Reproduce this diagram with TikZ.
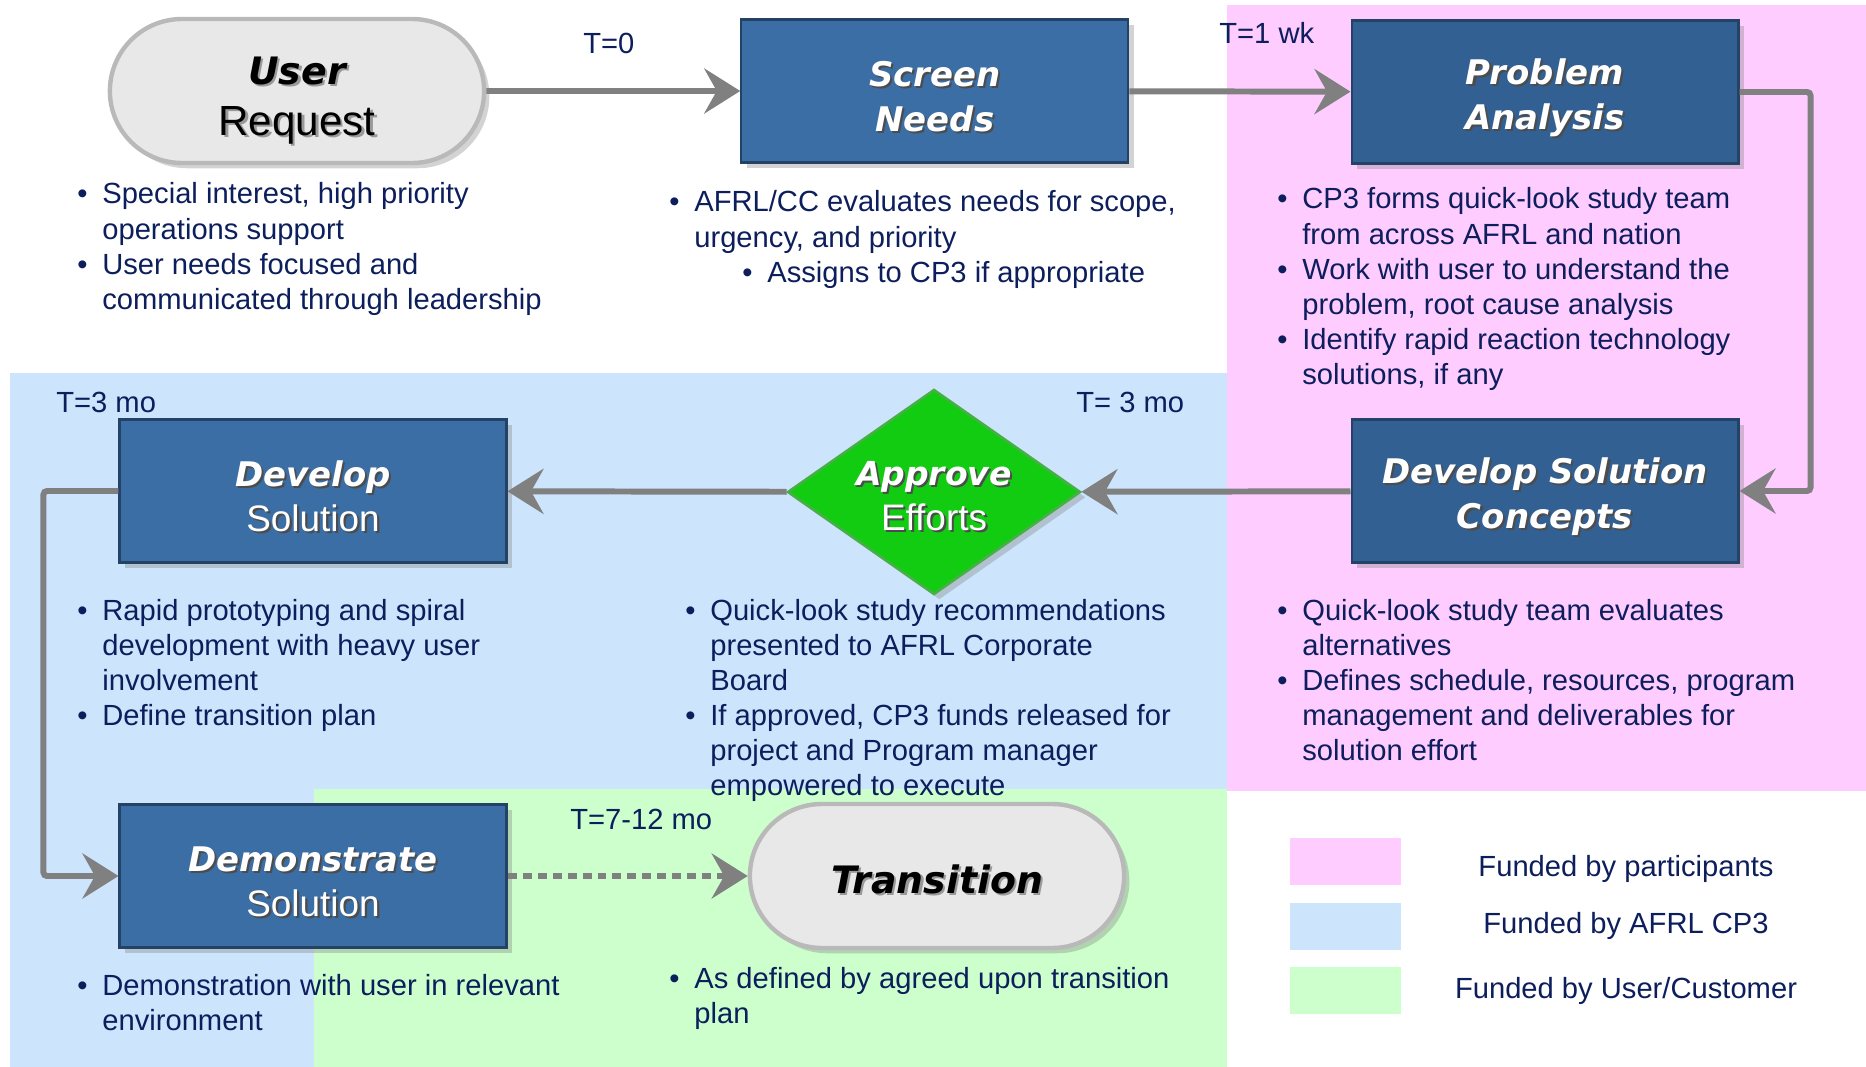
\documentclass[tikz,border=0pt]{standalone}
\usepackage{fontspec}
\setmainfont{Liberation Sans}
\newfontfamily\boxfont{DejaVu Sans}
\usepackage{tikz}
\usetikzlibrary{positioning}
\usetikzlibrary{shapes.geometric,shapes.misc,shadows,arrows.meta}

\definecolor{navytext}{RGB}{12,30,92}
\definecolor{pinkzone}{RGB}{255,204,255}
\definecolor{bluezone}{RGB}{204,228,252}
\definecolor{greenzone}{RGB}{204,255,204}
\definecolor{boxblue}{RGB}{58,110,165}
\definecolor{boxdeep}{RGB}{50,96,146}
\definecolor{boxedge}{RGB}{36,66,102}
\definecolor{okgreen}{RGB}{18,204,18}
\definecolor{okedge}{RGB}{70,175,70}
\definecolor{flowgray}{RGB}{128,128,128}

\newcommand{\shadowed}[2][black!70]{\leavevmode\rlap{\kern0.06em\raisebox{-0.06em}{\textcolor{#1}{#2}}}#2}

\begin{document}
\begin{tikzpicture}[x=0.02cm,y=-0.02cm,
      procbox/.style={rectangle,draw=boxedge,line width=1.2pt,fill=boxblue,
        minimum width=7.74cm,minimum height=2.86cm,text=white,align=center,
        font=\boxfont\bfseries\itshape\fontsize{19.3}{25.6}\selectfont,
        execute at begin node={\rule{0pt}{47.5pt}},
        drop shadow={opacity=0.35,shadow xshift=3pt,shadow yshift=-3pt}},
      termbox/.style={rounded rectangle,draw=gray!55,line width=2.5pt,fill=gray!18,
        minimum width=7.72cm,minimum height=2.88cm,text=black,align=center,
        font=\boxfont\bfseries\itshape\fontsize{21.5}{29}\selectfont,
        execute at begin node={\rule{0pt}{#1}},
        drop shadow={opacity=0.35,shadow xshift=3pt,shadow yshift=-3pt}},
      termbox/.default=21.7pt,
      gatebox/.style={diamond,aspect=1.43,draw=okedge,line width=1.5pt,fill=okgreen,
        minimum width=5.86cm,minimum height=4.1cm,inner sep=0pt,text=white,align=center,
        font=\boxfont\bfseries\itshape\fontsize{18.8}{25.6}\selectfont,
        execute at begin node={\rule{0pt}{45pt}},
        drop shadow={opacity=0.35,shadow xshift=3pt,shadow yshift=-3pt}},
      flow/.style={draw=flowgray,line width=3.4pt,rounded corners=2pt,
        -{Stealth[length=0.72cm,width=0.9cm,inset=0.25cm]}},
      notes/.style={anchor=base west,inner sep=0pt,text=navytext,
        font=\fontsize{16.6}{20}\selectfont},
      tmark/.style={anchor=west,inner sep=0pt,text=navytext,
        font=\fontsize{16.6}{20}\selectfont},
      keytext/.style={anchor=base,inner sep=0pt,text=navytext,
        font=\fontsize{16.6}{20}\selectfont},
      swatch/.style={rectangle,minimum width=2.22cm,minimum height=0.94cm,inner sep=0pt}]
      \useasboundingbox (0,0) rectangle (1866,1067);

      % Funding zones
      \fill[pinkzone]  (1227,5)  rectangle (1866,791);
      \fill[bluezone]  (10,373)  rectangle (1227,1067);
      \fill[greenzone] (314,789) rectangle (1227,1067);

      % Blocks
      \node[termbox=56.8pt]                   (request)    at (297,91)  {\shadowed[gray!80]{User}\\{\normalfont\fontsize{24}{29}\selectfont\shadowed[gray!80]{Request}}};
      \node[procbox,right=5.08cm of request]  (screen)                  {\shadowed{Screen}\\\shadowed{Needs}};
      \node[procbox,fill=boxdeep]             (problem)    at (1545,92) {\shadowed{Problem}\\\shadowed{Analysis}};
      \node[procbox,fill=boxdeep]             (concepts)   at (1545,491) {\shadowed{Develop Solution}\\\shadowed{Concepts}};
      \node[gatebox]                          (approve)    at (934,492) {\shadowed{Approve}\\{\normalfont\fontsize{21}{25.6}\selectfont\shadowed{Efforts}}};
      \node[procbox]                          (develop)    at (313,491) {\shadowed{Develop}\\{\normalfont\fontsize{21}{25.6}\selectfont\shadowed{Solution}}};
      \node[procbox]                          (demo)       at (313,876) {\shadowed{Demonstrate}\\{\normalfont\fontsize{21}{25.6}\selectfont\shadowed{Solution}}};
      \node[termbox]                          (transition) at (937,876) {\shadowed[gray!80]{Transition}};

      % Times
      \node[tmark] (t0)   at (583,43)   {T=0};
      \node[tmark] (t1)   at (1219,33)  {T=1 wk};
      \node[tmark] (t3a)  at (56,402)   {T=3 mo};
      \node[tmark] (t3b)  at (1076,402) {T= 3 mo};
      \node[tmark] (t712) at (570,819)  {T=7-12 mo};

      % Notes
      \node[notes] (requestnotes) at (77,204) {\begin{tabular}[t]{@{}p{0.5cm}@{}l@{}}
        \textbullet & Special interest, high priority\\
                    & operations support\\
        \textbullet & User needs focused and\\
                    & communicated through leadership
      \end{tabular}};
      \node[notes] (screennotes) at (669,212) {\begin{tabular}[t]{@{}p{0.5cm}@{}l@{}}
        \textbullet & AFRL/CC evaluates needs for scope,\\
                    & urgency, and priority\\
                    & \hspace{0.96cm}\makebox[0.5cm][l]{\textbullet}Assigns to CP3 if appropriate
      \end{tabular}};
      \node[notes] (problemnotes) at (1277,209) {\begin{tabular}[t]{@{}p{0.5cm}@{}l@{}}
        \textbullet & CP3 forms quick-look study team\\
                    & from across AFRL and nation\\
        \textbullet & Work with user to understand the\\
                    & problem, root cause analysis\\
        \textbullet & Identify rapid reaction technology\\
                    & solutions, if any
      \end{tabular}};
      \node[notes] (conceptnotes) at (1277,620) {\begin{tabular}[t]{@{}p{0.5cm}@{}l@{}}
        \textbullet & Quick-look study team evaluates\\
                    & alternatives\\
        \textbullet & Defines schedule, resources, program\\
                    & management and deliverables for\\
                    & solution effort
      \end{tabular}};
      \node[notes] (approvenotes) at (685,620) {\begin{tabular}[t]{@{}p{0.5cm}@{}l@{}}
        \textbullet & Quick-look study recommendations\\
                    & presented to AFRL Corporate\\
                    & Board\\
        \textbullet & If approved, CP3 funds released for\\
                    & project and Program manager\\
                    & empowered to execute
      \end{tabular}};
      \node[notes] (developnotes) at (77,620) {\begin{tabular}[t]{@{}p{0.5cm}@{}l@{}}
        \textbullet & Rapid prototyping and spiral\\
                    & development with heavy user\\
                    & involvement\\
        \textbullet & Define transition plan
      \end{tabular}};
      \node[notes] (demonotes) at (77,995) {\begin{tabular}[t]{@{}p{0.5cm}@{}l@{}}
        \textbullet & Demonstration with user in relevant\\
                    & environment
      \end{tabular}};
      \node[notes] (transitionnotes) at (669,988) {\begin{tabular}[t]{@{}p{0.5cm}@{}l@{}}
        \textbullet & As defined by agreed upon transition\\
                    & plan
      \end{tabular}};

      % Legend
      \node[swatch,fill=pinkzone]  (keypink)  at (1345,861) {};
      \node[swatch,fill=bluezone]  (keyblue)  at (1345,926) {};
      \node[swatch,fill=greenzone] (keygreen) at (1345,990) {};
      \node[keytext] (keypinktext)  at (1626,876) {Funded by participants};
      \node[keytext] (keybluetext)  at (1626,933) {Funded by AFRL CP3};
      \node[keytext] (keygreentext) at (1626,998) {Funded by User/Customer};

      % Arrows
      \draw[flow] (request) -- (screen);
      \draw[flow] (screen) -- (problem);
      \draw[flow] (problem.east) -- ++(71,0) |- (concepts.east);
      \draw[flow] (concepts) -- (approve);
      \draw[flow] (approve) -- (develop);
      \draw[flow] (develop.west) -- ++(-75,0) |- (demo.west);
      \draw[flow,dash pattern=on 0.18cm off 0.12cm] (demo) -- (transition);

    \end{tikzpicture}
\end{document}
